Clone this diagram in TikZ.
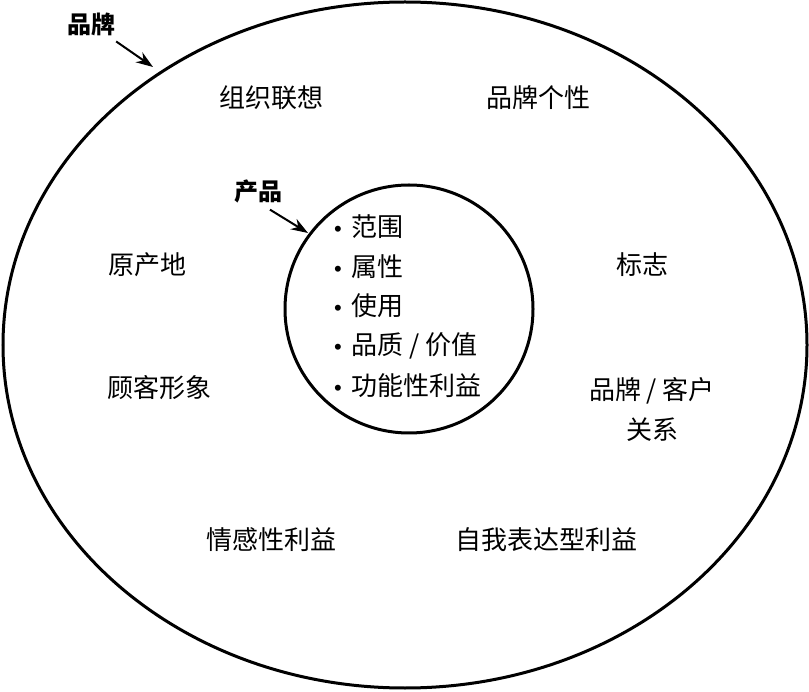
\documentclass[tikz,border=0pt]{standalone}
\usepackage{fontspec}
\usetikzlibrary{arrows.meta}
\newfontfamily\cjk{Noto Sans CJK SC}
\newfontfamily\latinsans{Liberation Sans}
\tikzset{
  ring/.style={line width=3pt},
  lbl/.style={font=\cjk\fontsize{26}{40}\selectfont, align=center, inner sep=0pt},
  tag/.style={font=\cjk\bfseries\fontsize{24}{28}\selectfont, inner sep=0pt, outer sep=6pt},
  pointer/.style={line width=2pt, -{Stealth[length=17pt,width=12pt]}},
  itemline/.style={lbl, anchor=west}
}
\newcommand{\blt}{{\latinsans\fontsize{22}{22}\selectfont •}\hspace{10pt}}
\begin{document}
\begin{tikzpicture}[x=1pt,y=-1pt]
\useasboundingbox (0,0) rectangle (809,692);
% rings
\draw[ring] (405,345) ellipse [x radius=402, y radius=343];
\draw[ring] (409,309) circle [radius=124];
\coordinate (bt) at (153,67);
\coordinate (pt) at (308,233);
% tags and pointers
\node[tag] (brand) at (91,24) {品牌};
\node[tag, outer sep=0pt] (product) at (258,191) {产品};
\draw[pointer] (brand) -- (bt);
\draw[pointer] ([shift={(12,7)}]product.south) -- (pt);
% outer labels
\node[lbl] (org) at (271,98) {组织联想};
\node[lbl] (pers) at (538,98) {品牌个性};
\node[lbl] (orig) at (147,265) {原产地};
\node[lbl] (logo) at (642,265) {标志};
\node[lbl] (img) at (159,388) {顾客形象};
\node[lbl] (rel) at (652,409) {品牌 / 客户\\关系};
\node[lbl] (emo) at (271,540) {情感性利益};
\node[lbl] (self) at (546,540) {自我表达型利益};
% inner list
\node[itemline] (i1) at (334,227) {\blt 范围};
\node[itemline] (i2) at (334,267) {\blt 属性};
\node[itemline] (i3) at (334,306) {\blt 使用};
\node[itemline] (i4) at (334,346) {\blt 品质 / 价值};
\node[itemline] (i5) at (334,386) {\blt 功能性利益};
\end{tikzpicture}
\end{document}
